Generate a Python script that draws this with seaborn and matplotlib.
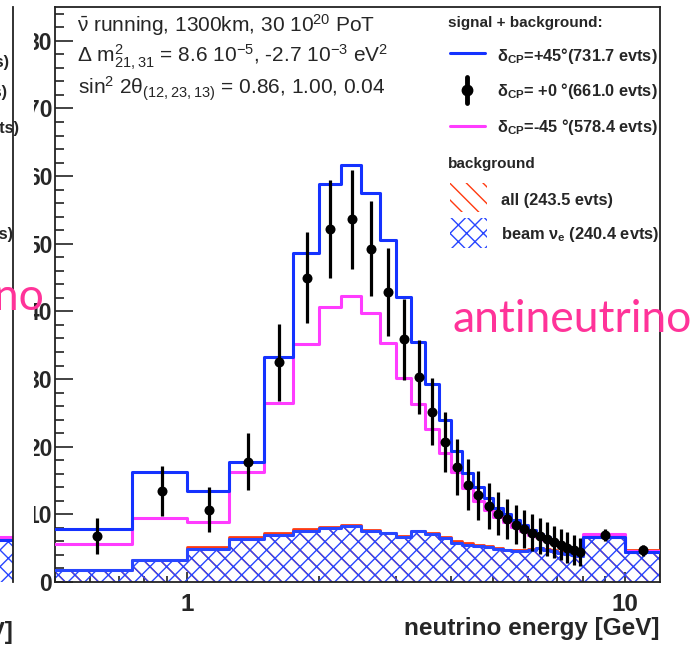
import numpy as np
import pandas as pd
import matplotlib
matplotlib.use("Agg")
import matplotlib.pyplot as plt
from matplotlib.patches import Rectangle
from matplotlib.lines import Line2D
from matplotlib.ticker import FixedLocator, FixedFormatter, MultipleLocator, NullFormatter
import seaborn as sns

# ---- data: reconstructed nu-e appearance spectra, antineutrino running ----
# energy bin edges [GeV]
bin_edges = [0.5, 0.75, 1.0, 1.25, 1.5, 1.75, 2.0, 2.25, 2.5, 2.75, 3.0,
             3.25, 3.5, 3.75, 4.0, 4.25, 4.5, 4.75, 5.0, 5.25, 5.5, 5.75,
             6.0, 6.25, 6.5, 6.75, 7.0, 7.25, 7.5, 7.75, 8.0, 10.0, 12.0]

# signal + background, delta_CP = +45 deg
dcp_plus45 = [7.9, 16.3, 13.5, 17.8, 33.2, 48.6, 58.9, 61.6, 57.5, 50.5, 42.2,
              35.5, 29.2, 23.9, 19.4, 16.1, 14.0, 12.4, 11.0, 10.0, 9.1, 8.4,
              7.7, 7.1, 6.6, 6.1, 5.6, 5.2, 4.7, 4.4, 6.7, 4.5]
# signal + background, delta_CP = -45 deg
dcp_minus45 = [5.6, 9.5, 8.9, 16.2, 26.5, 35.2, 40.7, 42.3, 39.8, 35.3, 30.2,
               26.3, 22.6, 19.0, 16.2, 13.9, 12.0, 10.6, 9.6, 8.8, 8.1, 7.6,
               7.0, 6.6, 6.2, 5.8, 5.4, 5.0, 4.7, 4.5, 7.1, 4.6]
# signal + background, delta_CP = 0 (pseudo-data)
dcp_zero = [6.8, 13.4, 10.7, 17.8, 32.5, 45.0, 52.2, 53.6, 49.3, 42.9, 35.9,
            30.3, 25.2, 20.7, 17.0, 14.4, 12.8, 11.3, 10.1, 9.3, 8.5, 7.9,
            7.3, 6.8, 6.3, 5.9, 5.5, 5.1, 4.7, 4.4, 7.0, 4.7]
dcp_zero_err = [2.6, 3.7, 3.3, 4.2, 5.7, 6.7, 7.2, 7.3, 7.0, 6.5, 6.0,
                5.5, 5.0, 4.5, 4.1, 3.8, 3.6, 3.4, 3.2, 3.0, 2.9, 2.8,
                2.7, 2.6, 2.5, 2.4, 2.3, 2.3, 2.2, 2.1, 0.9, 0.8]
# backgrounds
bkg_all = [1.8, 3.3, 5.2, 6.6, 7.3, 7.8, 8.2, 8.5, 7.7, 7.3, 6.8,
           7.6, 7.2, 6.7, 6.0, 5.7, 5.4, 5.3, 5.0, 4.8, 4.7, 4.7,
           4.9, 5.1, 4.9, 4.7, 4.4, 4.2, 4.1, 3.9, 6.7, 4.7]
bkg_beam_nue = [1.8, 3.3, 4.9, 6.4, 7.0, 7.5, 8.0, 8.3, 7.6, 7.2, 6.7,
                7.5, 7.1, 6.5, 5.8, 5.5, 5.3, 5.2, 4.9, 4.7, 4.6, 4.6,
                4.8, 5.0, 4.8, 4.6, 4.3, 4.1, 4.0, 3.8, 6.7, 4.5]

x_ticks = [1, 10]
x_tick_labels = ["1", "10"]
x_minor_ticks = [0.5, 0.6, 0.7, 0.8, 0.9, 2, 3, 4, 5, 6, 7, 8, 9]

info_lines = [r"$\bar{\nu}$ running, 1300km, 30 10$^{20}$ PoT",
              r"$\Delta$ m$^{2}_{21,31}$ = 8.6 10$^{-5}$, -2.7 10$^{-3}$ eV$^{2}$",
              r"sin$^{2}$ 2$\theta_{(12,23,13)}$ = 0.86, 1.00, 0.04"]
legend_labels = [r"δ$_{CP}$=+45°(731.7 evts)",
                 r"δ$_{CP}$= +0 °(661.0 evts)",
                 r"δ$_{CP}$=-45 °(578.4 evts)",
                 "all (243.5 evts)",
                 r"beam ν$_{e}$ (240.4 evts)"]

# neighbouring (neutrino-mode) panel, right edge only
nu_panel_plus45 = [6.2]
nu_panel_minus45 = [6.6]
nu_panel_beam_nue = [6.2]
nu_panel_legend_tails = ["evts)", "evts)", "evts)", "evts)"]

# ---- style ----
BLUE = "#1432ff"
PINK = "#ff3cff"
RED = "#ff3a10"
HATCH_BLUE = "#2846ff"
SLIDE_PINK = "#ff3399"

sns.set_style("ticks")
plt.rcParams.update({
    "font.family": ["Liberation Sans", "DejaVu Sans"],
    "font.weight": "bold",
    "mathtext.fontset": "custom",
    "mathtext.rm": "Liberation Sans",
    "mathtext.it": "Liberation Sans:italic",
    "mathtext.bf": "Liberation Sans:bold",
    "mathtext.default": "regular",
    "axes.linewidth": 1.3,
    "axes.edgecolor": "#222222",
    "hatch.linewidth": 1.0,
})

W, H, DPI = 696, 648, 100
fig = plt.figure(figsize=(W / DPI, H / DPI), dpi=DPI)
fig.patch.set_facecolor("white")


def fx(px):
    return px / W


def fy(py):
    return 1 - py / H


ax = fig.add_axes([fx(55), fy(582), fx(660) - fx(55), fy(7) - fy(582)])
ax.set_xscale("log")

edges = np.array(bin_edges)
centers = 0.5 * (edges[:-1] + edges[1:])


def step_frame(vals):
    return pd.DataFrame({"E": edges, "N": np.append(vals, vals[-1])})


# hatched backgrounds
ax.fill_between(edges, np.append(bkg_all, bkg_all[-1]), step="post",
                facecolor="none", edgecolor=RED, hatch="\\\\", linewidth=0, zorder=1)
ax.fill_between(edges, np.append(bkg_beam_nue, bkg_beam_nue[-1]), step="post",
                facecolor="none", edgecolor=HATCH_BLUE, hatch="xx", linewidth=0, zorder=2)

line_kw = dict(x="E", y="N", drawstyle="steps-post", estimator=None, sort=False, ax=ax)
sns.lineplot(data=step_frame(bkg_all), color=RED, linewidth=2.0, zorder=3, **line_kw)
sns.lineplot(data=step_frame(bkg_beam_nue), color=HATCH_BLUE, linewidth=2.2, zorder=4, **line_kw)
sns.lineplot(data=step_frame(dcp_minus45), color=PINK, linewidth=2.2, zorder=5, **line_kw)
sns.lineplot(data=step_frame(dcp_plus45), color=BLUE, linewidth=2.2, zorder=6, **line_kw)

# pseudo-data points
ax.errorbar(centers, dcp_zero, yerr=dcp_zero_err, fmt="none", ecolor="black",
            elinewidth=2.3, capsize=0, zorder=7)
sns.scatterplot(x=centers, y=dcp_zero, ax=ax, color="black", s=52,
                linewidth=0, zorder=8)

# axes
ax.set_xlim(0.5, 12)
ax.set_ylim(0, 85)
ax.xaxis.set_major_locator(FixedLocator(x_ticks))
ax.xaxis.set_major_formatter(FixedFormatter(x_tick_labels))
ax.xaxis.set_minor_locator(FixedLocator(x_minor_ticks))
ax.xaxis.set_minor_formatter(NullFormatter())
ax.yaxis.set_major_locator(MultipleLocator(10))
ax.yaxis.set_minor_locator(MultipleLocator(2))
ax.tick_params(which="both", direction="in", color="#222222", width=1.2,
               top=False, right=False)
ax.tick_params(axis="y", which="major", length=13, labelsize=16.5, pad=2)
ax.tick_params(axis="y", which="minor", length=6.5)
ax.tick_params(axis="x", which="major", length=7, labelsize=17.5, pad=8)
ax.tick_params(axis="x", which="minor", length=4)
ax.set_ylabel("")
ax.set_xlabel("neutrino energy [GeV]", fontsize=17.5, fontweight="bold",
              loc="right", labelpad=1)

# run parameters
for text, (px, py) in zip(info_lines, [(77, 25), (77, 57), (78, 89)]):
    fig.text(fx(px), fy(py), text, fontsize=15, fontweight="normal",
             ha="left", va="center", zorder=7)

# legend
LS = 11.8
fig.text(fx(448), fy(23), "signal + background:", fontsize=LS - 0.8, ha="left", va="center", zorder=7)
fig.add_artist(Line2D([fx(450), fx(485)], [fy(53), fy(53)], color=BLUE, lw=2.2,
                      transform=fig.transFigure, zorder=7))
fig.add_artist(Line2D([fx(467), fx(467)], [fy(77), fy(103)], color="black", lw=3.5,
                      transform=fig.transFigure, zorder=7))
fig.add_artist(Line2D([fx(467)], [fy(90)], color="black", marker="o", markersize=7.5,
                      transform=fig.transFigure, zorder=7))
fig.add_artist(Line2D([fx(450), fx(485)], [fy(126), fy(126)], color=PINK, lw=2.2,
                      transform=fig.transFigure, zorder=7))
for label, py in zip(legend_labels[:3], [56, 91, 127]):
    fig.text(fx(497), fy(py), label, fontsize=LS, ha="left", va="center", zorder=7)
fig.text(fx(448), fy(164), "background", fontsize=LS - 0.8, ha="left", va="center", zorder=7)
fig.add_artist(Rectangle((fx(450), fy(212)), fx(487) - fx(450), fy(183) - fy(212),
                         transform=fig.transFigure, facecolor="none", edgecolor=RED,
                         hatch="\\\\", linewidth=0, zorder=7))
fig.add_artist(Rectangle((fx(450), fy(248)), fx(487) - fx(450), fy(218) - fy(248),
                         transform=fig.transFigure, facecolor="none", edgecolor=HATCH_BLUE,
                         hatch="xx", linewidth=0, zorder=7))
fig.text(fx(501), fy(200), legend_labels[3], fontsize=LS, ha="left", va="center", zorder=7)
fig.text(fx(501), fy(235), legend_labels[4], fontsize=LS, ha="left", va="center", zorder=7)

# slide layer: the neighbouring panel covers the left margin
fig.add_artist(Rectangle((0, 0), fx(34), 1, transform=fig.transFigure,
                         facecolor="white", edgecolor="none", zorder=5))
axl = fig.add_axes([fx(-300), fy(582), fx(13) - fx(-300), fy(7) - fy(582)])
axl.set_zorder(6)
axl.patch.set_alpha(0)
nu_edges = np.array([0.0, 1.0])
axl.fill_between(nu_edges, nu_panel_beam_nue * 2, step="post", facecolor="none",
                 edgecolor=HATCH_BLUE, hatch="xx", linewidth=0)
sns.lineplot(x=nu_edges, y=nu_panel_minus45 * 2, drawstyle="steps-post", color=PINK,
             linewidth=2.2, estimator=None, ax=axl)
sns.lineplot(x=nu_edges, y=nu_panel_plus45 * 2, drawstyle="steps-post", color=BLUE,
             linewidth=2.2, estimator=None, ax=axl)
axl.set_xlim(0, 1)
axl.set_ylim(0, 85)
for side in ["left", "top", "bottom"]:
    axl.spines[side].set_visible(False)
axl.spines["right"].set_linewidth(1.3)
axl.set_xticks([])
axl.set_yticks([])
axl.set_xlabel("")
axl.set_ylabel("")
for text, (px, py) in zip(nu_panel_legend_tails, [(10, 63), (8, 93), (19, 128), (13, 234)]):
    fig.text(fx(px), fy(py), text, fontsize=LS, ha="right", va="center", zorder=7)
fig.text(fx(14), fy(632), "[GeV]", fontsize=17.5, ha="right", va="center", zorder=7)
fig.text(fx(45), fy(298), "neutrino", fontsize=32, family="Lato", fontweight="normal",
         color=SLIDE_PINK, ha="right", va="center", zorder=7)
fig.text(fx(452), fy(320), "antineutrino", fontsize=32, family="Lato", fontweight="normal",
         color=SLIDE_PINK, ha="left", va="center", zorder=7)

fig.savefig("out.png", dpi=DPI)
